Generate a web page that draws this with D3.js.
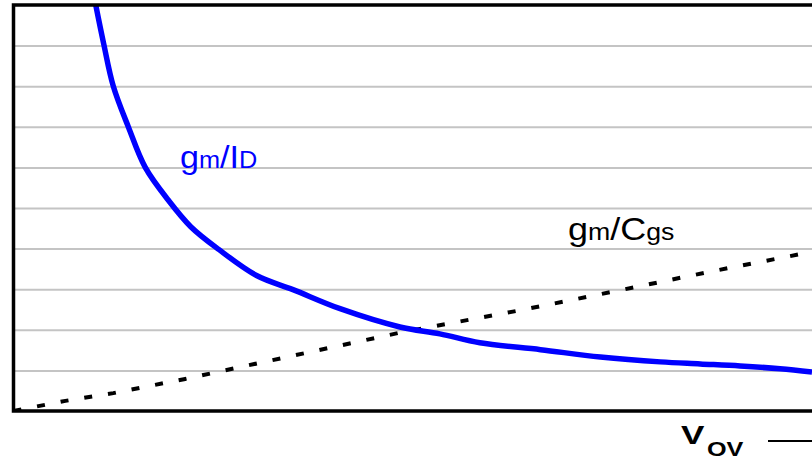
<!DOCTYPE html>
<html>
<head>
<meta charset="utf-8">
<script src="https://cdn.jsdelivr.net/npm/d3@7"></script>
<style>
  body { margin: 0; background: #fff; }
  svg { display: block; }
  text { font-family: "Liberation Sans", Arial, sans-serif; }
</style>
</head>
<body>
<div id="chart"></div>
<script>
// gm/ID curve (blue)
const vovId = [0.103, 0.113, 0.125, 0.144, 0.165, 0.194, 0.222, 0.257, 0.305, 0.350, 0.409, 0.484, 0.534, 0.584, 0.660, 0.735, 0.810, 0.860, 0.910, 0.960, 1.0];
const gmId = [10.0, 9.04, 8.0, 6.99, 6.0, 5.19, 4.54, 3.98, 3.33, 2.99, 2.52, 2.07, 1.90, 1.68, 1.51, 1.33, 1.21, 1.16, 1.11, 1.04, 0.96];

// gm/Cgs line (dashed)
const vovC = [0, 0.065, 0.125, 0.215, 0.484, 0.637, 0.756, 0.872, 1.0];
const gmCgs = [0, 0.25, 0.44, 0.79, 1.93, 2.49, 2.96, 3.43, 3.92];

const gridValues = [1, 2, 3, 4, 5, 6, 7, 8, 9];

const width = 812;
const height = 462;

const x = d3.scaleLinear().domain([0, 1]).range([13.5, 812]);
const y = d3.scaleLinear().domain([0, 10]).range([411, 5]);

const svg = d3.select('#chart')
    .append('svg')
    .attr('width', width)
    .attr('height', height);

svg.append('defs')
    .append('clipPath')
    .attr('id', 'plot')
    .append('rect')
    .attr('x', x(0))
    .attr('y', y(10))
    .attr('width', x(1) - x(0))
    .attr('height', y(0) - y(10));

// gridlines
const grid = svg.append('g')
    .attr('transform', `translate(${x(0)},0)`)
    .call(d3.axisLeft(y).tickValues(gridValues).tickSize(-(x(1) - x(0))).tickFormat(''));
grid.select('.domain').remove();
grid.selectAll('.tick line')
    .attr('stroke', '#c4c4c4')
    .attr('stroke-width', 2);

const plot = svg.append('g').attr('clip-path', 'url(#plot)');

const cgsLine = d3.line()
    .x((d, i) => x(vovC[i]))
    .y(d => y(d));

plot.append('path')
    .datum(gmCgs)
    .attr('fill', 'none')
    .attr('stroke', '#000')
    .attr('stroke-width', 4)
    .attr('stroke-dasharray', '8,16')
    .attr('d', cgsLine);

const idLine = d3.line()
    .x((d, i) => x(vovId[i]))
    .y(d => y(d))
    .curve(d3.curveCatmullRom);

plot.append('path')
    .datum(gmId)
    .attr('fill', 'none')
    .attr('stroke', '#0000ff')
    .attr('stroke-width', 5.5)
    .attr('stroke-linejoin', 'round')
    .attr('d', idLine);

// frame: top, left, bottom
svg.append('path')
    .attr('fill', 'none')
    .attr('stroke', '#000')
    .attr('stroke-width', 3.5)
    .attr('d', `M${x(1)},${y(10)} H${x(0)} V${y(0)} H${x(1)}`);

// labels
const idLabel = svg.append('text')
    .attr('transform', 'translate(180,168) scale(1.1,1)')
    .attr('fill', '#0000ff');
idLabel.append('tspan').attr('font-size', 31).text('g');
idLabel.append('tspan').attr('font-size', 23).text('m');
idLabel.append('tspan').attr('font-size', 31).text('/I');
idLabel.append('tspan').attr('font-size', 23).text('D');

const cgsLabel = svg.append('text')
    .attr('transform', 'translate(568,240) scale(1.16,1)')
    .attr('fill', '#000');
cgsLabel.append('tspan').attr('font-size', 31).text('g');
cgsLabel.append('tspan').attr('font-size', 23).text('m');
cgsLabel.append('tspan').attr('font-size', 31).text('/C');
cgsLabel.append('tspan').attr('font-size', 23).text('gs');

svg.append('text')
    .attr('transform', 'translate(681,444) scale(1.35,1)')
    .attr('font-size', 26)
    .attr('font-weight', 'bold')
    .text('V');
svg.append('text')
    .attr('transform', 'translate(707,456) scale(1.2,1)')
    .attr('font-size', 21)
    .attr('font-weight', 'bold')
    .text('OV');

svg.append('line')
    .attr('x1', 768)
    .attr('x2', 830)
    .attr('y1', 441)
    .attr('y2', 441)
    .attr('stroke', '#000')
    .attr('stroke-width', 2);
</script>
</body>
</html>
